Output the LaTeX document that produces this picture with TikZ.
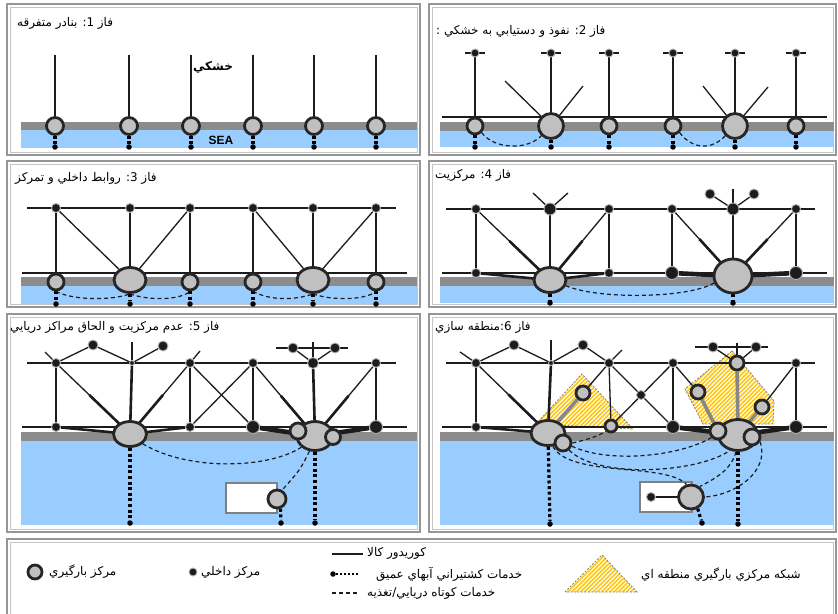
\documentclass[tikz,border=0pt]{standalone}
\usepackage{fontspec}
\setmainfont{Liberation Sans}
\newfontfamily\fa[Script=Arabic]{DejaVu Sans}
\usetikzlibrary{shapes.geometric,calc}
\TeXXeTstate=1
\pgfdeclarelayer{back}
\pgfdeclarelayer{mid}
\pgfsetlayers{back,mid,main}

\definecolor{seablue}{RGB}{153,204,255}
\definecolor{landgray}{RGB}{140,140,140}
\definecolor{hubfill}{RGB}{192,192,192}
\definecolor{hubedge}{RGB}{38,38,38}
\definecolor{ink}{RGB}{28,28,28}
\definecolor{framegray}{RGB}{150,150,150}
\definecolor{hatchyellow}{RGB}{255,200,20}
\definecolor{zonegray}{RGB}{135,135,135}

\tikzset{
  hub/.style={circle,fill=hubfill,draw=hubedge,line width=2.8bp,inner sep=0pt,minimum size=#1},
  hubE/.style 2 args={ellipse,fill=hubfill,draw=hubedge,line width=2.8bp,inner sep=0pt,minimum width=#1,minimum height=#2},
  idot/.style={circle,fill=ink,draw=gray!60,line width=0.9bp,inner sep=0pt,minimum size=#1},
  edot/.style={circle,fill=black,inner sep=0pt,minimum size=5.5bp},
  corr/.style={draw=ink,line width=1.3bp},
  corrT/.style={draw=ink,line width=2.6bp},
  corrTT/.style={draw=ink,line width=4.6bp},
  zoneline/.style={draw=zonegray,line width=3.6bp},
  deepsea/.style={draw=black,line width=3.2bp,dash pattern=on 3bp off 2.6bp},
  feeder/.style={draw=ink,line width=1.2bp,dash pattern=on 4bp off 3bp},
  landband/.style={fill=landgray},
  seaband/.style={fill=seablue},
  phasetitle/.style={anchor=west,inner sep=0pt,font=\fa\fontsize{12}{13}\selectfont},
  legtext/.style={anchor=west,inner sep=0pt,font=\fa\fontsize{12}{13}\selectfont},
  frameout/.style={draw=framegray,line width=1.5bp},
  framein/.style={draw=framegray!55,line width=0.8bp},
  zonebd/.style={draw=gray,line width=0.8bp,dash pattern=on 2bp off 1.5bp},
  whitebox/.style={fill=white,draw=gray,line width=1.8bp},
}

% hatched regional zone: clip stripes to the outline, then dash the outline
\newcommand{\hatchzone}[2]{%
  \begin{scope}
    \clip #1;
    \foreach \n in {0,...,100}
      \draw[hatchyellow,line width=1.6bp] ({#2+4.2*\n},610) -- ++(300,-300);
  \end{scope}
  \draw[zonebd] #1;
}
% corridor that thickens towards the hub it feeds
\newcommand{\taperline}[3]{%
  \draw[corr] (#1) -- (#2.center);
  \draw[#3] ($(#1)!0.45!(#2.center)$) -- (#2.center);
}

\begin{document}
\begin{tikzpicture}[x=1bp,y=-1bp]
\useasboundingbox (0,0) rectangle (838,614);

% ---------- frames, land and sea ----------
\begin{pgfonlayer}{back}
  \fill[white] (0,0) rectangle (838,614);
  \foreach \a/\b/\c/\d in {7/4/420/155, 429/4/836/155, 7/161/420/307, 429/161/836/307, 7/314/420/532, 429/314/836/532, 7/539/836/630}{
    \draw[frameout] (\a,\b) rectangle (\c,\d);
    \draw[framein] ({\a+3},{\b+3}) rectangle ({\c-3},{\d-3});
  }
  % phase 1 and 2
  \fill[landband] (21,122) rectangle (417,130);
  \fill[seaband] (21,130) rectangle (417,148);
  \fill[landband] (440,122) rectangle (834,131);
  \fill[seaband] (440,131) rectangle (834,147);
  % phase 3 and 4
  \fill[landband] (21,277) rectangle (417,286);
  \fill[seaband] (21,286) rectangle (417,304);
  \fill[landband] (440,277) rectangle (834,286);
  \fill[seaband] (440,286) rectangle (834,303);
  % phase 5 and 6
  \fill[landband] (21,432) rectangle (417,441);
  \fill[seaband] (21,441) rectangle (417,525);
  \fill[landband] (440,432) rectangle (834,441);
  \fill[seaband] (440,441) rectangle (834,525);
  % offshore terminals
  \draw[whitebox] (226,483) rectangle (277,513);
  \draw[whitebox] (640,482) rectangle (692,512);
  % regional load-centre networks
  \hatchzone{(536,424) -- (582,374) -- (633,429) -- cycle}{220}
  \hatchzone{(732,351) -- (774,401) -- (773,424) -- (703,424) -- (685,389) -- cycle}{380}
  \hatchzone{(565,592) -- (602,555) -- (637,592) -- cycle}{260}
\end{pgfonlayer}

% ---------- titles ----------
\node[phasetitle] (t1) at (17,23) {\beginR فاز 1: بنادر متفرقه\endR};
\node[phasetitle] (t2) at (436,31) {\beginR فاز 2: نفوذ و دستيابي به خشکي :\endR};
\node[phasetitle] (t3) at (15,178) {\beginR فاز 3: روابط داخلي و تمرکز\endR};
\node[phasetitle] (t4) at (435,175) {\beginR فاز 4: مرکزيت\endR};
\node[phasetitle] (t5) at (10,327) {\beginR فاز 5: عدم مرکزيت و الحاق مراکز دريايي\endR};
\node[phasetitle] (t6) at (435,327) {\beginR فاز 6:منطقه سازي\endR};
\node[font=\fa\bfseries\fontsize{12}{13}\selectfont,inner sep=0pt] (landlbl) at (213,67) {\beginR خشکي\endR};
\node[font=\bfseries\fontsize{12}{13}\selectfont,inner sep=0pt] (sealbl) at (221,140) {SEA};

% ---------- phase 1: scattered ports ----------
\foreach \x [count=\i] in {55,129,191,253,314,376}{
  \node[hub=17bp] (p1h\i) at (\x,126) {};
  \node[edot] (p1s\i) at (\x,147) {};
  \coordinate (p1t\i) at (\x,55);
}
\begin{pgfonlayer}{mid}
  \foreach \i in {1,...,6}{
    \draw[corr] (p1t\i) -- (p1h\i);
    \draw[deepsea] (p1h\i) -- (p1s\i);
  }
\end{pgfonlayer}

% ---------- phase 2: penetration inland ----------
\foreach \x/\s [count=\i] in {475/16bp,551/25bp,609/16bp,673/16bp,735/25bp,796/16bp}{
  \node[hub=\s] (p2h\i) at (\x,126) {};
  \node[idot=8bp] (p2d\i) at (\x,53) {};
  \node[edot] (p2s\i) at (\x,147) {};
  \coordinate (p2bl\i) at ({\x-10},53);
  \coordinate (p2br\i) at ({\x+10},53);
}
\coordinate (p2L) at (442,117);
\coordinate (p2R) at (827,117);
\coordinate (p2a1) at (505,81);
\coordinate (p2a2) at (583,86);
\coordinate (p2a3) at (703,86);
\coordinate (p2a4) at (768,87);
\begin{pgfonlayer}{mid}
  \draw[corr] (p2L) -- (p2R);
  \foreach \i in {1,...,6}{
    \draw[corr] (p2bl\i) -- (p2br\i);
    \draw[corr] (p2d\i) -- (p2h\i);
    \draw[deepsea] (p2h\i) -- (p2s\i);
  }
  \draw[corr] (p2a1) -- (p2h2.center);
  \draw[corr] (p2a2) -- (p2h2.center);
  \draw[corr] (p2a3) -- (p2h5.center);
  \draw[corr] (p2a4) -- (p2h5.center);
  \draw[feeder] (p2h1.south east) .. controls (495,150) and (528,150) .. (p2h2.south west);
  \draw[feeder] (p2h4.south east) .. controls (693,150) and (712,150) .. (p2h5.south west);
\end{pgfonlayer}

% ---------- phase 3: interconnection and concentration ----------
\foreach \x [count=\i] in {56,130,190,253,313,376}{
  \node[idot=9bp] (p3d\i) at (\x,208) {};
  \node[edot] (p3s\i) at (\x,304) {};
}
\foreach \i/\x in {1/56,3/190,4/253,6/376}
  \node[hub=16bp] (p3h\i) at (\x,282) {};
\node[hubE={32bp}{25bp}] (p3h2) at (130,280) {};
\node[hubE={32bp}{25bp}] (p3h5) at (313,280) {};
\coordinate (p3tL) at (27,208);
\coordinate (p3tR) at (396,208);
\coordinate (p3lL) at (22,273);
\coordinate (p3lR) at (407,273);
\begin{pgfonlayer}{mid}
  \draw[corr] (p3tL) -- (p3tR);
  \draw[corr] (p3lL) -- (p3lR);
  \foreach \i in {1,...,6}{
    \draw[corr] (p3d\i) -- (p3h\i.center);
    \draw[deepsea] (p3h\i) -- (p3s\i);
  }
  \draw[corr] (p3d1) -- (p3h2.center);
  \draw[corr] (p3d3) -- (p3h2.center);
  \draw[corr] (p3d4) -- (p3h5.center);
  \draw[corr] (p3d6) -- (p3h5.center);
  \draw[feeder] (p3h1.south) .. controls (72,300) and (110,301) .. (p3h2.south);
  \draw[feeder] (p3h2.south) .. controls (150,301) and (180,300) .. (p3h3.south);
  \draw[feeder] (p3h4.south) .. controls (269,300) and (293,301) .. (p3h5.south);
  \draw[feeder] (p3h5.south) .. controls (333,301) and (366,300) .. (p3h6.south);
\end{pgfonlayer}

% ---------- phase 4: centralisation ----------
\node[idot=9bp] (p4d1) at (476,209) {};
\node[idot=12bp] (p4d2) at (550,209) {};
\node[idot=9bp] (p4d3) at (609,209) {};
\node[idot=9bp] (p4d4) at (672,209) {};
\node[idot=12bp] (p4d5) at (733,209) {};
\node[idot=9bp] (p4d6) at (796,209) {};
\node[idot=10bp] (p4u1) at (710,194) {};
\node[idot=10bp] (p4u2) at (754,194) {};
\node[idot=9bp] (p4e1) at (476,273) {};
\node[idot=9bp] (p4e3) at (609,273) {};
\node[idot=13bp] (p4e4) at (672,273) {};
\node[idot=13bp] (p4e6) at (796,273) {};
\node[hubE={32bp}{25bp}] (p4H1) at (550,280) {};
\node[hubE={38bp}{34bp}] (p4H2) at (733,276) {};
\node[edot] (p4s1) at (550,303) {};
\node[edot] (p4s2) at (733,303) {};
\coordinate (p4tL) at (446,209);
\coordinate (p4tR) at (815,209);
\coordinate (p4lL) at (442,273);
\coordinate (p4lR) at (827,273);
\coordinate (p4v1) at (533,193);
\coordinate (p4v2) at (568,193);
\coordinate (p4v3) at (733,189);
\begin{pgfonlayer}{mid}
  \draw[corr] (p4tL) -- (p4tR);
  \draw[corr] (p4lL) -- (p4lR);
  \draw[corr] (p4v1) -- (p4d2.center) -- (p4v2);
  \draw[corr] (p4v3) -- (p4d5);
  \draw[corr] (p4d5) -- (p4u1);
  \draw[corr] (p4d5) -- (p4u2);
  \draw[corr] (p4d1) -- (p4e1);
  \draw[corr] (p4d3) -- (p4e3);
  \draw[corr] (p4d4) -- (p4e4);
  \draw[corr] (p4d6) -- (p4e6);
  \draw[corrT] (p4d2) -- (p4H1.center);
  \draw[corrT] (p4d5) -- (p4H2.center);
  \taperline{p4d1}{p4H1}{corrT}
  \taperline{p4d3}{p4H1}{corrT}
  \taperline{p4d4}{p4H2}{corrT}
  \taperline{p4d6}{p4H2}{corrT}
  \draw[corrT] (p4e1) -- (p4H1.center) -- (p4e3);
  \draw[corrTT] (p4e4) -- (p4H2.center) -- (p4e6);
  \draw[feeder] (p4H1.-20) .. controls (600,300) and (690,298) .. (p4H2.200);
  \draw[deepsea] (p4H1) -- (p4s1);
  \draw[deepsea] (p4H2) -- (p4s2);
\end{pgfonlayer}

% ---------- phase 5: decentralisation and offshore hubs ----------
\node[idot=9bp] (p5d1) at (56,363) {};
\node[idot=5bp] (p5j) at (132,363) {};
\node[idot=9bp] (p5d3) at (190,363) {};
\node[idot=9bp] (p5d4) at (253,363) {};
\node[idot=11bp] (p5d5) at (313,363) {};
\node[idot=9bp] (p5d6) at (376,363) {};
\node[idot=10bp] (p5A) at (93,345) {};
\node[idot=10bp] (p5B) at (163,346) {};
\node[idot=10bp] (p5C) at (293,348) {};
\node[idot=10bp] (p5D) at (335,348) {};
\node[idot=9bp] (p5e1) at (56,427) {};
\node[idot=9bp] (p5e3) at (190,427) {};
\node[idot=13bp] (p5e4) at (253,427) {};
\node[idot=13bp] (p5e6) at (376,427) {};
\node[hubE={33bp}{25bp}] (p5H) at (130,434) {};
\node[hubE={36bp}{29bp}] (p5K) at (315,436) {};
\node[hub=16bp] (p5k1) at (298,431) {};
\node[hub=15bp] (p5k2) at (333,437) {};
\node[hub=18bp] (p5sc) at (277,499) {};
\node[edot] (p5s1) at (130,523) {};
\node[edot] (p5s2) at (281,523) {};
\node[edot] (p5s3) at (315,523) {};
\coordinate (p5tL) at (27,363);
\coordinate (p5tR) at (396,363);
\coordinate (p5lL) at (22,427);
\coordinate (p5lR) at (407,427);
\coordinate (p5x1) at (95,363);
\coordinate (p5x2) at (167,363);
\coordinate (p5ext1) at (45,352);
\coordinate (p5ext2) at (200,351);
\coordinate (p5jt) at (132,342);
\coordinate (p5rL) at (276,348);
\coordinate (p5rR) at (348,348);
\coordinate (p5rt) at (313,342);
\begin{pgfonlayer}{mid}
  \draw[corr] (p5tL) -- (p5tR);
  \draw[corr] (p5lL) -- (p5lR);
  \draw[corrT] (p5x1) -- (p5x2);
  \draw[corr] (p5ext1) -- (p5d1);
  \draw[corr] (p5ext2) -- (p5d3);
  \draw[corr] (p5d1) -- (p5A) -- (p5j.center) -- (p5B);
  \draw[corr] (p5jt) -- (p5j);
  \draw[corrT] (p5j) -- (p5H.center);
  \draw[corr] (p5rL) -- (p5rR);
  \draw[corr] (p5rt) -- (p5d5);
  \draw[corr] (p5d5) -- (p5C);
  \draw[corr] (p5d5) -- (p5D);
  \draw[corr] (p5d1) -- (p5e1);
  \draw[corr] (p5d3) -- (p5e3);
  \draw[corr] (p5d4) -- (p5e4);
  \draw[corr] (p5d6) -- (p5e6);
  \draw[corr] (p5d3) -- (p5e4);
  \draw[corr] (p5d4) -- (p5e3);
  \taperline{p5d1}{p5H}{corrT}
  \taperline{p5d3}{p5H}{corrT}
  \taperline{p5d4}{p5K}{corrT}
  \taperline{p5d6}{p5K}{corrT}
  \draw[corrT] (p5d5) -- (p5K.center);
  \draw[corrT] (p5e1) -- (p5H.center) -- (p5e3);
  \draw[corrTT] (p5e4) -- (p5K.center) -- (p5e6);
  \draw[feeder] (p5H.south east) .. controls (190,472) and (270,468) .. (p5K.south west);
  \draw[feeder] (p5K.250) .. controls (300,470) .. (p5sc.60);
  \draw[deepsea] (p5H) -- (p5s1);
  \draw[deepsea] (p5K) -- (p5s3);
  \draw[deepsea] (p5sc.-70) -- (p5s2);
\end{pgfonlayer}

% ---------- phase 6: regionalisation ----------
\node[idot=9bp] (p6d1) at (476,363) {};
\node[idot=5bp] (p6j) at (551,363) {};
\node[idot=9bp] (p6d3) at (609,363) {};
\node[idot=9bp] (p6d4) at (673,363) {};
\node[idot=9bp] (p6d6) at (796,363) {};
\node[idot=10bp] (p6A) at (514,345) {};
\node[idot=10bp] (p6B) at (583,345) {};
\node[idot=10bp] (p6C) at (713,347) {};
\node[idot=10bp] (p6D) at (756,347) {};
\node[idot=9bp] (p6M) at (641,395) {};
\node[idot=9bp] (p6e1) at (476,427) {};
\node[idot=13bp] (p6e4) at (673,427) {};
\node[idot=13bp] (p6e6) at (796,427) {};
\node[hubE={34bp}{25bp}] (p6L) at (548,433) {};
\node[hub=16bp] (p6l) at (563,443) {};
\node[hubE={39bp}{31bp}] (p6K) at (738,435) {};
\node[hub=16bp] (p6k1) at (718,431) {};
\node[hub=16bp] (p6k2) at (752,437) {};
\node[hub=14bp] (p6s1) at (583,393) {};
\node[hub=12bp] (p6s2) at (611,426) {};
\node[hub=14bp] (p6s3) at (698,392) {};
\node[hub=14bp] (p6s4) at (762,407) {};
\node[hub=14bp] (p6tc) at (737,363) {};
\node[hubE={25bp}{24bp}] (p6bc) at (691,497) {};
\node[idot=9bp] (p6bd) at (651,497) {};
\node[edot] (p6x1) at (550,524) {};
\node[edot] (p6x2) at (702,523) {};
\node[edot] (p6x3) at (738,524) {};
\coordinate (p6tL) at (446,363);
\coordinate (p6tR) at (815,363);
\coordinate (p6lL) at (442,427);
\coordinate (p6lR) at (827,427);
\coordinate (p6y1) at (515,363);
\coordinate (p6y2) at (587,363);
\coordinate (p6ext1) at (460,352);
\coordinate (p6ext2) at (622,350);
\coordinate (p6jt) at (551,340);
\coordinate (p6rL) at (695,347);
\coordinate (p6rR) at (768,347);
\coordinate (p6rt) at (737,343);
\begin{pgfonlayer}{mid}
  \draw[corr] (p6tL) -- (p6tR);
  \draw[corr] (p6lL) -- (p6lR);
  \draw[corrT] (p6y1) -- (p6y2);
  \draw[corr] (p6ext1) -- (p6d1);
  \draw[corr] (p6ext2) -- (p6d3);
  \draw[corr] (p6d1) -- (p6A) -- (p6j.center) -- (p6B) -- (p6d3);
  \draw[corr] (p6jt) -- (p6j);
  \draw[corrT] (p6j) -- (p6L.center);
  \draw[corr] (p6rL) -- (p6rR);
  \draw[corr] (p6rt) -- (p6tc);
  \draw[corr] (p6tc) -- (p6C);
  \draw[corr] (p6tc) -- (p6D);
  \draw[corr] (p6d1) -- (p6e1);
  \draw[corr] (p6d3) -- (p6s2);
  \draw[corr] (p6d4) -- (p6e4);
  \draw[corr] (p6d6) -- (p6e6);
  \draw[corr] (p6d3) -- (p6e4);
  \draw[corr] (p6d4) -- (p6s2);
  \taperline{p6d1}{p6L}{corrT}
  \draw[corr] (p6d3) -- (p6s1);
  \draw[corr] (p6d4) -- (p6s3);
  \draw[corr] (p6d6) -- (p6s4);
  \draw[zoneline] (p6s1) -- (p6L.center);
  \draw[zoneline] (p6s3) -- (p6k1.center);
  \draw[zoneline] (p6s4) -- (p6K.center);
  \draw[zoneline] (p6tc) -- (p6K.center);
  \draw[corrT] (p6e1) -- (p6L.center);
  \draw[corrTT] (p6e4) -- (p6K.center) -- (p6e6);
  \draw[corr] (p6bd) -- (p6bc);
  \draw[feeder] (p6l.east) .. controls (585,440) and (597,437) .. (p6s2.south west);
  \draw[feeder] (p6l.-20) .. controls (610,464) and (680,456) .. (p6k1.south west);
  \draw[feeder] (p6l.-50) .. controls (600,480) and (700,472) .. (p6K.-118);
  \draw[feeder] (p6L.-70) .. controls (570,478) and (665,462) .. (p6bc.110);
  \draw[feeder] (p6K.-97) .. controls (731,470) and (716,478) .. (p6bc.50);
  \draw[feeder] (p6k2.-30) .. controls (770,472) and (735,495) .. (p6bc.east);
  \draw[deepsea] (p6L) -- (p6x1);
  \draw[deepsea] (p6K) -- (p6x3);
  \draw[deepsea] (p6bc.-60) -- (p6x2);
\end{pgfonlayer}

% ---------- legend ----------
\node[hub=14bp] (lg1) at (35,572) {};
\node[legtext] (lg1t) at (49,572) {\beginR مرکز بارگيري\endR};
\node[idot=8bp] (lg2) at (193,572) {};
\node[legtext] (lg2t) at (201,572) {\beginR مرکز داخلي\endR};
\coordinate (lg3a) at (332,554);
\coordinate (lg3b) at (363,554);
\node[legtext] (lg3t) at (367,553) {\beginR کوريدور کالا\endR};
\node[edot] (lg4) at (333,574) {};
\coordinate (lg4b) at (359,574);
\node[legtext] (lg4t) at (376,574) {\beginR خدمات کشتيراني آبهاي عميق\endR};
\coordinate (lg5a) at (332,593);
\coordinate (lg5b) at (359,593);
\node[legtext] (lg5t) at (367,593) {\beginR خدمات کوتاه دريايي/تغذيه\endR};
\node[legtext] (lg6t) at (641,575) {\beginR شبکه مرکزي بارگيري  منطقه اي\endR};
\begin{pgfonlayer}{mid}
  \draw[corr] (lg3a) -- (lg3b);
  \draw[draw=black,line width=2bp,dash pattern=on 2bp off 2bp] (lg4) -- (lg4b);
  \draw[feeder] (lg5a) -- (lg5b);
\end{pgfonlayer}
\end{tikzpicture}
\end{document}
